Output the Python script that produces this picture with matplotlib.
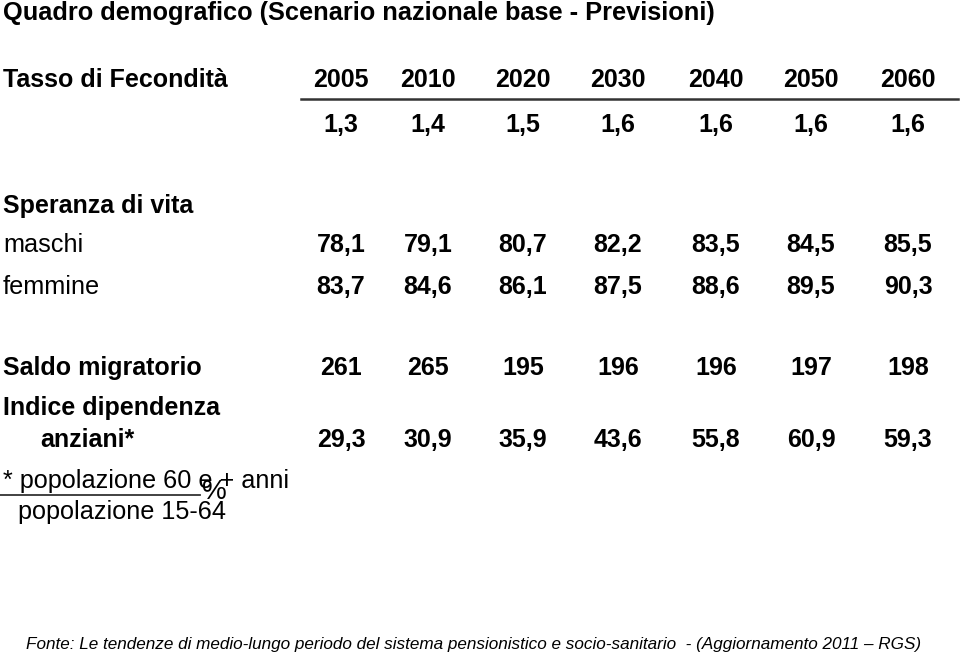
import matplotlib
matplotlib.use("Agg")
import matplotlib.pyplot as plt

REG = "Liberation Sans"

title = "Quadro demografico (Scenario nazionale base - Previsioni)"
years = ["2005", "2010", "2020", "2030", "2040", "2050", "2060"]
fecondita = ["1,3", "1,4", "1,5", "1,6", "1,6", "1,6", "1,6"]
maschi = ["78,1", "79,1", "80,7", "82,2", "83,5", "84,5", "85,5"]
femmine = ["83,7", "84,6", "86,1", "87,5", "88,6", "89,5", "90,3"]
saldo = ["261", "265", "195", "196", "196", "197", "198"]
dipendenza = ["29,3", "30,9", "35,9", "43,6", "55,8", "60,9", "59,3"]
fonte = "Fonte: Le tendenze di medio-lungo periodo del sistema pensionistico e socio-sanitario  - (Aggiornamento 2011 – RGS)"

W, H = 960, 657
fig = plt.figure(figsize=(W / 100, H / 100), dpi=100)
ax = fig.add_axes([0, 0, 1, 1])
ax.set_xlim(0, W)
ax.set_ylim(H, 0)
ax.axis("off")

col_x = [341, 428, 523, 618, 716, 811, 908]
BS = 18     # bold size
RS = 18.2   # regular size

def row(vals, y, size=BS):
    for x, v in zip(col_x, vals):
        ax.text(x, y, v, ha="center", va="center", fontsize=size,
                fontfamily=REG, fontweight="bold")

def label(x, y, s, bold=True, size=None):
    ax.text(x, y, s, ha="left", va="center",
            fontsize=size if size else (BS if bold else RS),
            fontfamily=REG, fontweight="bold" if bold else "normal")

label(3, 13, title, bold=True, size=18.3)

label(3, 80, "Tasso di Fecondità")
row(years, 80)
ax.plot([301, 958], [99, 99], color="#333333", lw=1.8)
row(fecondita, 125)

label(3, 206, "Speranza di vita")
label(3, 245, "maschi", bold=False)
row(maschi, 245)
label(3, 287, "femmine", bold=False)
row(femmine, 287)

label(3, 368, "Saldo migratorio")
row(saldo, 368)
label(3, 408, "Indice dipendenza")
label(40, 440, "anziani*")
row(dipendenza, 440)

label(3, 481, "* popolazione 60 e + anni", bold=False)
ax.plot([0, 200], [495, 495], color="#333333", lw=1.3)
label(18, 512, "popolazione 15-64", bold=False)
ax.text(214, 492, "%", ha="center", va="center", fontsize=20, fontfamily=REG)

ax.text(474, 645, fonte, ha="center", va="center", fontsize=12.3,
        fontfamily=REG, fontstyle="italic")

fig.savefig("out.png", dpi=100)
